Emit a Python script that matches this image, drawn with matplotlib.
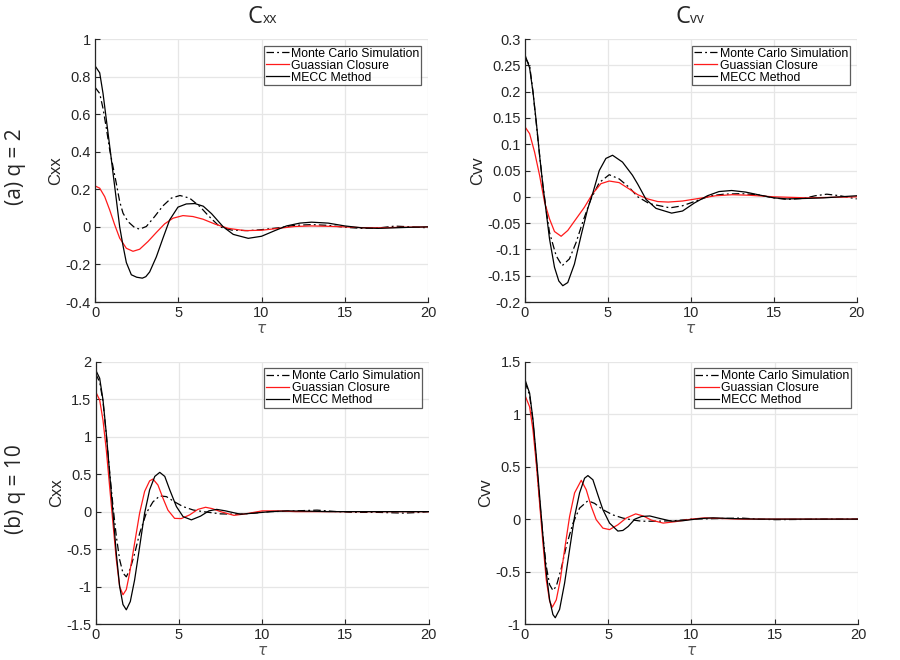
import numpy as np
import matplotlib
matplotlib.use('Agg')
import matplotlib.pyplot as plt

plt.rcParams['font.family'] = ['Liberation Sans', 'DejaVu Sans']
plt.rcParams['axes.unicode_minus'] = False

#########################################################
#   values, tau vs correlation   #
#########################################################

# (a) q = 2, Cxx
t_mc_a_xx = [0, 0.28, 0.48, 0.68, 0.88, 1.08, 1.28, 1.48, 1.68, 1.98, 2.38, 2.68, 3.08, 3.58, 4.08,
             4.58, 5.1, 5.68, 6.3, 6.8, 7.5, 8.2, 9.2, 10, 11, 12, 13, 14, 15, 16, 17, 18, 19, 20]
mc_a_xx = [0.743, 0.71, 0.63, 0.525, 0.41, 0.32, 0.23, 0.135, 0.073, 0.028, -0.004, -0.012, 0.002,
           0.055, 0.112, 0.153, 0.167, 0.153, 0.108, 0.06, 0.0, -0.017, -0.02, -0.015, -0.005, 0.008,
           0.012, 0.008, -0.002, -0.008, -0.006, 0.004, 0.0, -0.005]
t_gc_a_xx = [0, 0.28, 0.58, 0.88, 1.18, 1.48, 1.88, 2.28, 2.68, 3.18, 3.68, 4.18, 4.68, 5.28, 5.88,
             6.48, 7.2, 8, 9, 10, 11, 12, 13, 14, 15, 16, 17, 18, 20]
gc_a_xx = [0.218, 0.206, 0.161, 0.09, 0.011, -0.06, -0.114, -0.13, -0.119, -0.078, -0.03, 0.016,
           0.046, 0.06, 0.055, 0.041, 0.015, -0.008, -0.02, -0.018, -0.008, 0.002, 0.005, 0.003,
           0.0, -0.004, -0.005, -0.003, 0.0]
t_me_a_xx = [0, 0.28, 0.48, 0.68, 0.88, 1.08, 1.28, 1.48, 1.68, 1.88, 2.18, 2.5, 2.84, 3.05, 3.28,
             3.68, 4.08, 4.48, 4.98, 5.48, 6.0, 6.5, 7.0, 7.7, 8.3, 9.2, 10, 10.8, 11.5, 12.3, 13,
             14, 15, 16, 17, 18, 19, 20]
me_a_xx = [0.857, 0.82, 0.71, 0.57, 0.43, 0.286, 0.144, 0.0, -0.10, -0.19, -0.255, -0.268, -0.273,
           -0.265, -0.24, -0.16, -0.06, 0.037, 0.105, 0.122, 0.124, 0.11, 0.07, 0.0, -0.04, -0.061,
           -0.05, -0.02, 0.005, 0.02, 0.025, 0.02, 0.005, -0.005, -0.008, -0.005, -0.002, 0.0]

# (a) q = 2, Cvv
t_mc_a_vv = [0, 0.28, 0.48, 0.68, 0.88, 1.08, 1.28, 1.48, 1.88, 2.24, 2.68, 3.08, 3.48, 3.98, 4.48,
             5.08, 5.68, 6.28, 6.8, 7.5, 8.74, 9.5, 10.3, 11.2, 12, 13, 14, 15, 15.8, 16.8, 17.5,
             18.2, 19, 20]
mc_a_vv = [0.265, 0.25, 0.2, 0.14, 0.08, 0.022, -0.025, -0.068, -0.112, -0.131, -0.118, -0.087,
           -0.048, -0.004, 0.027, 0.042, 0.034, 0.018, 0.0, -0.013, -0.021, -0.017, -0.008, 0.002,
           0.005, 0.006, 0.004, -0.002, -0.005, -0.003, 0.002, 0.005, 0.002, -0.004]
t_gc_a_vv = [0, 0.28, 0.58, 0.88, 1.18, 1.48, 1.78, 2.18, 2.58, 3.08, 3.58, 4.08, 4.58, 5.08, 5.68,
             6.28, 6.8, 7.4, 8.0, 8.64, 9.5, 10.5, 11.5, 12.5, 13.5, 15, 17, 20]
gc_a_vv = [0.133, 0.12, 0.085, 0.041, -0.01, -0.042, -0.066, -0.075, -0.064, -0.042, -0.02, 0.006,
           0.025, 0.030, 0.027, 0.015, 0.004, -0.004, -0.009, -0.010, -0.008, -0.003, 0.002, 0.004,
           0.003, 0.0, -0.002, 0.0]
t_me_a_vv = [0, 0.28, 0.48, 0.68, 0.88, 1.08, 1.28, 1.48, 1.78, 2.04, 2.28, 2.58, 2.98, 3.38, 3.78,
             4.08, 4.48, 4.88, 5.28, 5.88, 6.48, 6.8, 7.3, 7.9, 8.84, 9.5, 10.2, 11, 11.7, 12.46,
             13.3, 14.2, 15, 15.8, 17, 18, 19, 20]
me_a_vv = [0.27, 0.245, 0.2, 0.143, 0.079, 0.022, -0.029, -0.08, -0.134, -0.16, -0.169, -0.163,
           -0.128, -0.074, -0.023, 0.006, 0.05, 0.073, 0.079, 0.066, 0.041, 0.024, -0.005, -0.022,
           -0.031, -0.027, -0.012, 0.002, 0.01, 0.012, 0.009, 0.003, -0.002, -0.004, -0.003,
           -0.002, 0.0, 0.002]

# (b) q = 10, Cxx
t_mc_b_xx = [0, 0.24, 0.44, 0.64, 0.84, 1.04, 1.24, 1.44, 1.64, 1.84, 2.08, 2.34, 2.64, 3.04, 3.44,
             3.85, 4.25, 4.74, 5.25, 5.85, 6.45, 7.5, 8.5, 9.5, 10.5, 12, 13.3, 14.5, 15.5, 17,
             18.5, 19.5, 20]
mc_b_xx = [1.84, 1.73, 1.47, 1.02, 0.53, 0.07, -0.33, -0.64, -0.82, -0.87, -0.76, -0.56, -0.29,
           -0.02, 0.13, 0.21, 0.2, 0.13, 0.067, 0.022, 0.0, -0.03, -0.035, -0.02, 0.0, 0.01, 0.02,
           0.0, -0.01, -0.01, -0.02, -0.01, 0.0]
t_gc_b_xx = [0, 0.24, 0.44, 0.64, 0.84, 1.04, 1.24, 1.44, 1.64, 1.84, 2.04, 2.34, 2.64, 2.94, 3.24,
             3.44, 3.74, 4.04, 4.34, 4.74, 5.14, 5.64, 6.14, 6.6, 7.0, 7.5, 8.3, 9, 10, 11, 12, 20]
gc_b_xx = [1.6, 1.49, 1.22, 0.82, 0.33, -0.16, -0.64, -1.0, -1.11, -1.04, -0.82, -0.42, -0.02,
           0.27, 0.41, 0.435, 0.355, 0.18, 0.02, -0.09, -0.093, -0.044, 0.03, 0.058, 0.04, 0.0,
           -0.05, -0.03, 0.01, 0.01, 0.0, 0.0]
t_me_b_xx = [0, 0.24, 0.44, 0.64, 0.84, 1.04, 1.24, 1.44, 1.64, 1.84, 2.08, 2.34, 2.64, 2.94, 3.24,
             3.55, 3.85, 4.15, 4.45, 4.85, 5.25, 5.75, 6.3, 6.8, 7.27, 7.8, 8.7, 9.5, 10.5, 11.5,
             13, 14, 20]
me_b_xx = [1.89, 1.78, 1.49, 1.04, 0.51, -0.02, -0.56, -1.0, -1.24, -1.31, -1.2, -0.91, -0.47,
           -0.02, 0.29, 0.47, 0.524, 0.47, 0.29, 0.067, -0.067, -0.11, -0.06, 0.01, 0.03, 0.01,
           -0.035, -0.02, 0.0, 0.01, 0.005, 0.0, 0.0]

# (b) q = 10, Cvv
t_mc_b_vv = [0, 0.28, 0.48, 0.68, 0.88, 1.08, 1.28, 1.48, 1.68, 1.88, 2.18, 2.48, 2.88, 3.28, 3.78,
             4.18, 4.68, 5.28, 5.88, 6.38, 7.0, 8.0, 9, 10, 11.5, 13, 14, 15, 16.5, 18, 20]
mc_b_vv = [1.31, 1.18, 0.93, 0.56, 0.18, -0.165, -0.45, -0.625, -0.68, -0.64, -0.47, -0.26, -0.04,
           0.105, 0.175, 0.15, 0.09, 0.04, 0.01, -0.006, -0.02, -0.02, -0.015, 0.0, 0.005, 0.01,
           0.0, -0.005, -0.003, 0.0, 0.0]
t_gc_b_vv = [0, 0.28, 0.48, 0.68, 0.88, 1.08, 1.28, 1.48, 1.64, 1.88, 2.12, 2.38, 2.68, 2.98, 3.38,
             3.68, 3.98, 4.28, 4.68, 5.08, 5.58, 6.08, 6.65, 7.1, 7.6, 8.3, 9, 10, 10.8, 12, 13, 20]
gc_b_vv = [1.18, 1.07, 0.85, 0.53, 0.15, -0.23, -0.58, -0.78, -0.84, -0.77, -0.58, -0.29, 0.025,
           0.25, 0.37, 0.28, 0.12, -0.006, -0.086, -0.10, -0.054, 0.01, 0.05, 0.03, -0.01, -0.038,
           -0.025, 0.0, 0.012, 0.005, 0.0, 0.0]
t_me_b_vv = [0, 0.28, 0.48, 0.68, 0.88, 1.08, 1.28, 1.48, 1.68, 1.82, 2.08, 2.38, 2.68, 2.98, 3.28,
             3.58, 3.78, 4.08, 4.38, 4.68, 5.08, 5.58, 5.88, 6.2, 6.6, 7.0, 7.5, 8.0, 8.8, 9.5,
             10.5, 11.3, 12.5, 14, 20]
me_b_vv = [1.33, 1.2, 0.95, 0.6, 0.22, -0.165, -0.51, -0.77, -0.91, -0.94, -0.86, -0.61, -0.29,
           0.025, 0.25, 0.39, 0.415, 0.375, 0.23, 0.09, -0.038, -0.114, -0.108, -0.07, 0.0, 0.025,
           0.03, 0.01, -0.02, -0.015, 0.005, 0.012, 0.005, 0.0, 0.0]

labels = ['Monte Carlo Simulation', 'Guassian Closure', 'MECC Method']
xticks = [0, 5, 10, 15, 20]
yticks_a_xx = [-0.4, -0.2, 0, 0.2, 0.4, 0.6, 0.8, 1]
yticks_a_vv = [-0.2, -0.15, -0.1, -0.05, 0, 0.05, 0.1, 0.15, 0.2, 0.25, 0.3]
yticks_b_xx = [-1.5, -1, -0.5, 0, 0.5, 1, 1.5, 2]
yticks_b_vv = [-1, -0.5, 0, 0.5, 1, 1.5]

dark = '#262626'

fig = plt.figure(figsize=(9, 6.6), dpi=100)
ax_a_xx = fig.add_axes([0.1056, 0.5424, 0.370, 0.3985])
ax_a_vv = fig.add_axes([0.5833, 0.5424, 0.3686, 0.3985])
ax_b_xx = fig.add_axes([0.1063, 0.0545, 0.370, 0.3974])
ax_b_vv = fig.add_axes([0.5833, 0.0545, 0.370, 0.3974])

panels = [
    (ax_a_xx, t_mc_a_xx, mc_a_xx, t_gc_a_xx, gc_a_xx, t_me_a_xx, me_a_xx, yticks_a_xx, 'Cxx', -0.096),
    (ax_a_vv, t_mc_a_vv, mc_a_vv, t_gc_a_vv, gc_a_vv, t_me_a_vv, me_a_vv, yticks_a_vv, 'Cvv', -0.12),
    (ax_b_xx, t_mc_b_xx, mc_b_xx, t_gc_b_xx, gc_b_xx, t_me_b_xx, me_b_xx, yticks_b_xx, 'Cxx', -0.096),
    (ax_b_vv, t_mc_b_vv, mc_b_vv, t_gc_b_vv, gc_b_vv, t_me_b_vv, me_b_vv, yticks_b_vv, 'Cvv', -0.096),
]

for ax, tm, m, tg, g, te, e, yt, yl, ylx in panels:
    ax.plot(tm, m, color='black', lw=0.9, linestyle=(0, (6, 2.5, 1.5, 2.5)), label=labels[0])
    ax.plot(tg, g, color='#ff1a1a', lw=0.9, label=labels[1])
    ax.plot(te, e, color='black', lw=0.9, label=labels[2])
    ax.set_xlim(0, 20)
    ax.set_ylim(yt[0], yt[-1])
    ax.set_xticks(xticks)
    ax.set_xticklabels(['%g' % v for v in xticks])
    ax.set_yticks(yt)
    ax.set_yticklabels(['%g' % v for v in yt])
    ax.grid(True, color='#e6e6e6', lw=0.9)
    ax.set_axisbelow(True)
    for s in ['top', 'right']:
        ax.spines[s].set_visible(False)
    for s in ['left', 'bottom']:
        ax.spines[s].set_color(dark)
        ax.spines[s].set_linewidth(0.9)
    ax.tick_params(direction='in', length=3.5, width=0.8, colors=dark, labelsize=10.5, pad=3)
    ax.set_ylabel(yl, fontsize=12, color=dark)
    ax.yaxis.set_label_coords(ylx, 0.5)
    ax.set_xlabel(r'$\tau$', fontsize=11, color='#555555')
    ax.xaxis.set_label_coords(0.5, -0.076)
    leg = ax.legend(loc='upper right', fontsize=8.8, frameon=True, fancybox=False,
                    handlelength=1.9, handletextpad=0.2, labelspacing=0.0, borderpad=0.15,
                    borderaxespad=0.55)
    leg.get_frame().set_edgecolor('#333333')
    leg.get_frame().set_linewidth(0.9)

# column titles: big C followed by small letters
for xc, sub in [(0.292, 'xx'), (0.767, 'vv')]:
    fig.text(xc, 0.965, 'C', fontsize=17, ha='right', va='baseline', family='Open Sans', color=dark)
    fig.text(xc, 0.965, sub, fontsize=10, ha='left', va='baseline', family='Open Sans', color=dark)

# row labels
fig.text(0.017, 0.747, '(a) q = 2', rotation=90, fontsize=15, ha='center', va='center',
         family='Open Sans', color=dark)
fig.text(0.017, 0.259, '(b) q = 10', rotation=90, fontsize=15, ha='center', va='center',
         family='Open Sans', color=dark)

fig.savefig('out.png', dpi=100)
